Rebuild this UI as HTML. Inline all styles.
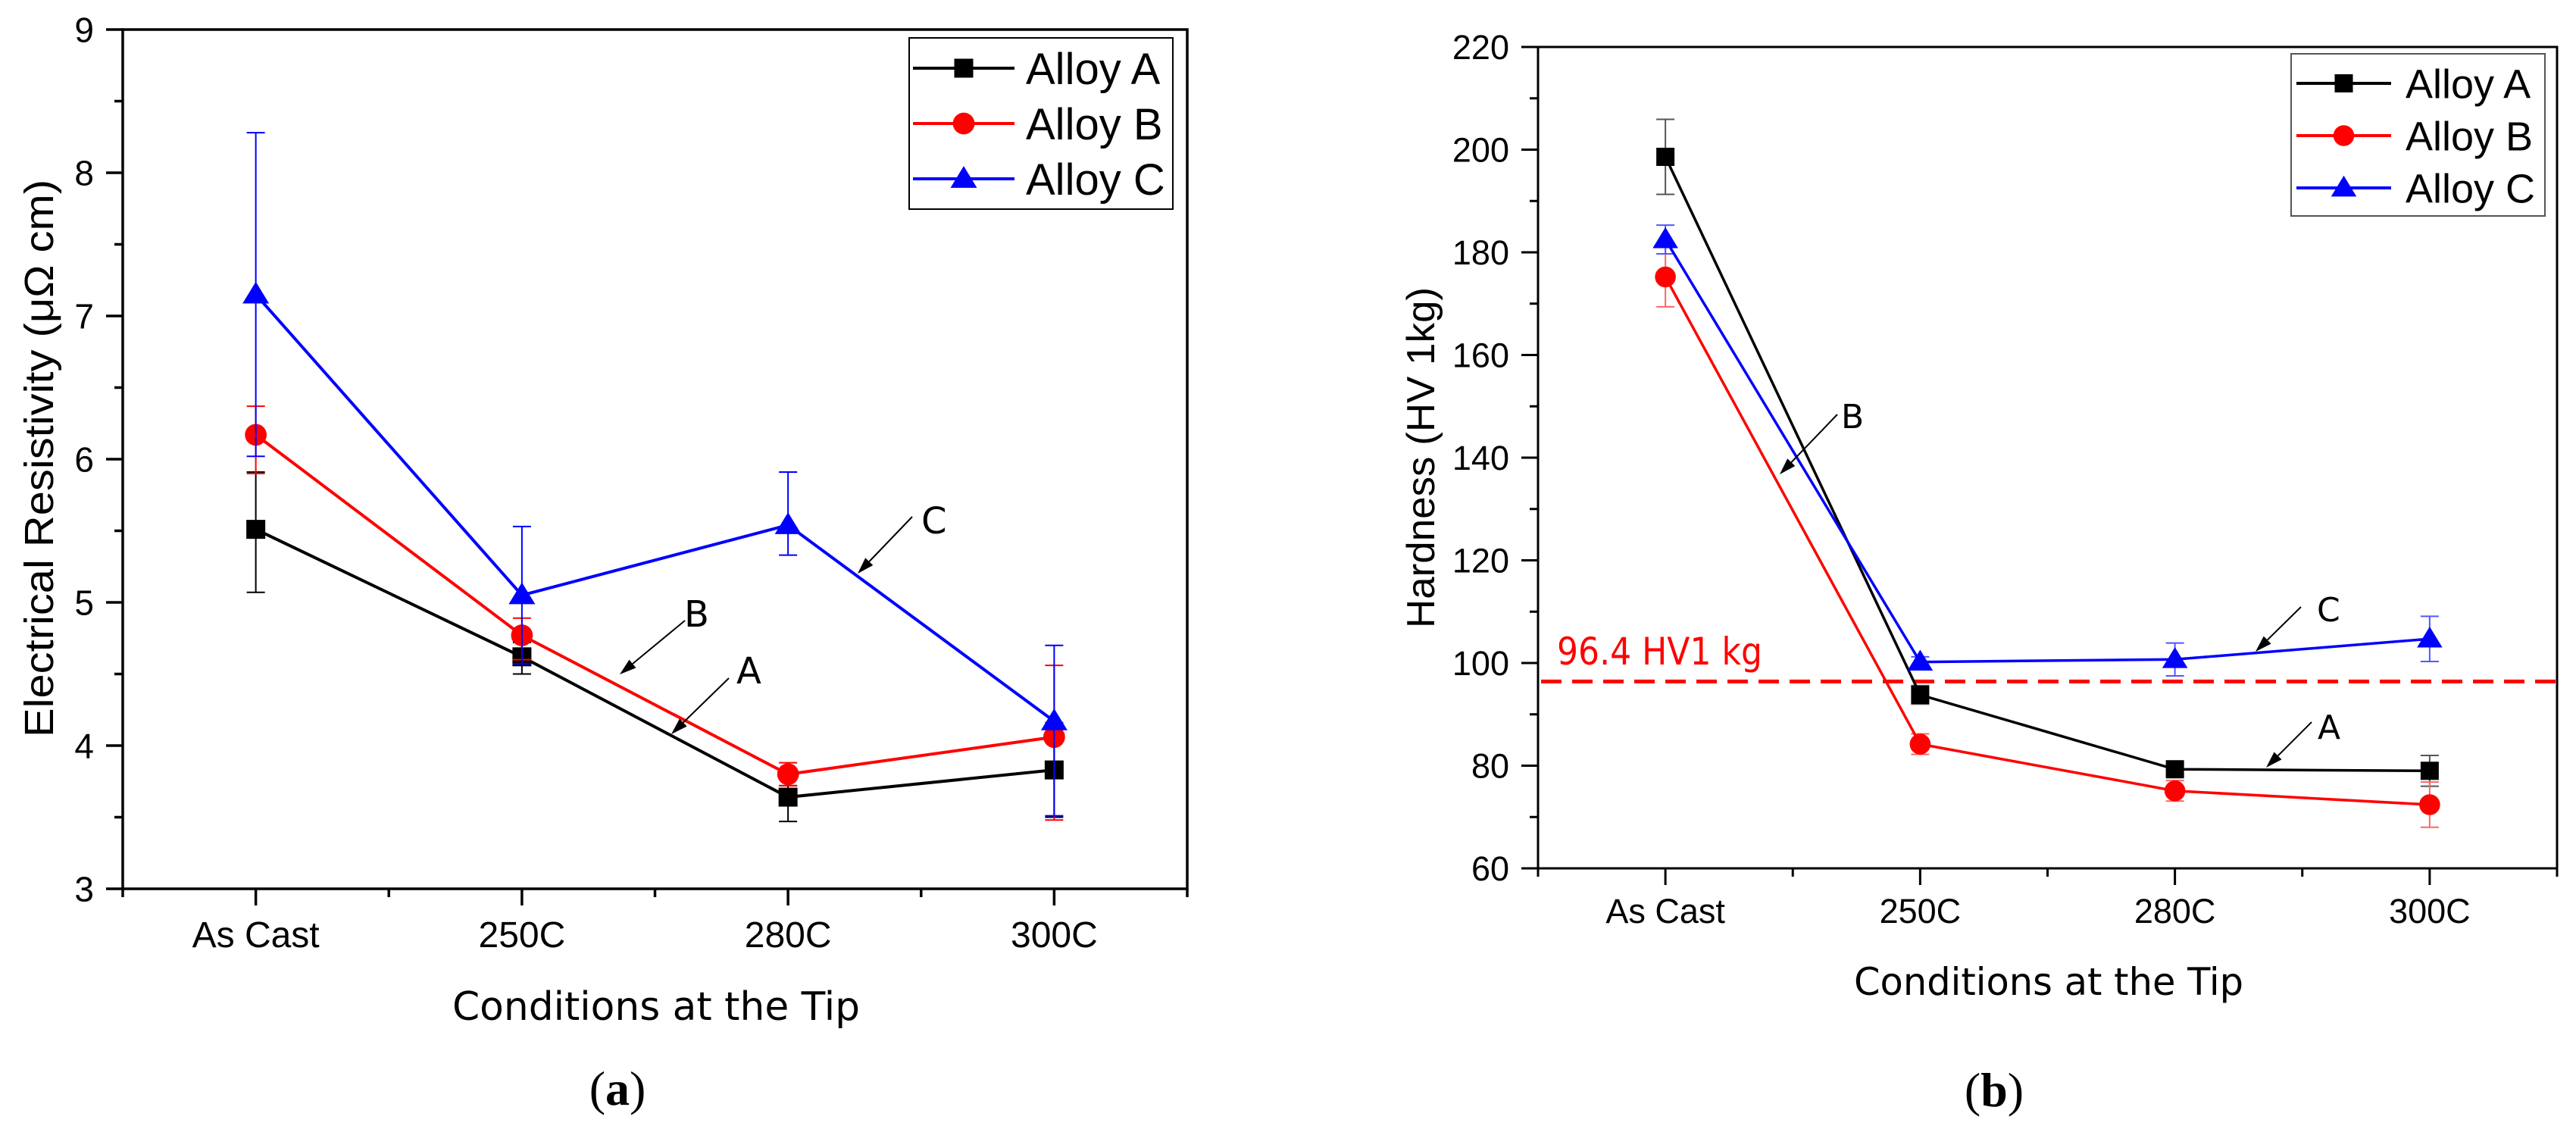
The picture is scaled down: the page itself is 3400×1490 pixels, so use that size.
<!DOCTYPE html>
<html><head><meta charset="utf-8"><style>
html,body{margin:0;padding:0;background:#fff;}
svg{display:block;font-family:"Liberation Sans",Arial,sans-serif;}
</style></head><body>
<svg id="fig" width="3400" height="1490" viewBox="0 0 3400 1490" xmlns="http://www.w3.org/2000/svg"></svg>
<script>
const categories = ["As Cast","250C","280C","300C"];
// Chart (a) electrical resistivity
const resA = [5.51, 4.62, 3.64, 3.83];
const resB = [6.17, 4.77, 3.80, 4.06];
const resC = [7.15, 5.05, 5.54, 4.17];
const resAUp = [0.40, 0.10, 0.08, 0.33];
const resALo = [0.44, 0.12, 0.17, 0.33];
const resBUp = [0.20, 0.12, 0.08, 0.50];
const resBLo = [0.27, 0.17, 0.08, 0.58];
const resCUp = [1.13, 0.48, 0.37, 0.53];
const resCLo = [1.13, 0.48, 0.21, 0.66];
const resTicks = [3,4,5,6,7,8,9];
// Chart (b) hardness
const hvA = [198.6, 93.8, 79.3, 79.0];
const hvB = [175.2, 84.2, 75.1, 72.4];
const hvC = [182.5, 100.2, 100.7, 104.7];
const hvAErr = [7.3, 1.8, 1.0, 3.0];
const hvBErr = [5.8, 2.0, 2.0, 4.4];
const hvCErr = [2.8, 1.0, 3.2, 4.4];
const hvTicks = [60,80,100,120,140,160,180,200,220];
const hvLimit = [96.4];

const NS = "http://www.w3.org/2000/svg";
const svg = document.getElementById('fig');
function mk(tag, attrs, parent, text){
  const e = document.createElementNS(NS, tag);
  for (const k in attrs) e.setAttribute(k, attrs[k]);
  if (text !== undefined) e.textContent = text;
  (parent||svg).appendChild(e);
  return e;
}
function marker(g, shape, x, y, color, s){
  let m;
  if (shape==='square') m = mk('rect',{x:x-s,y:y-s,width:2*s,height:2*s,fill:color},g);
  else if (shape==='circle') m = mk('circle',{cx:x,cy:y,r:s*1.15,fill:color},g);
  else m = mk('polygon',{points:`${x},${y-s*1.35} ${x-s*1.4},${y+s*0.95} ${x+s*1.4},${y+s*0.95}`,fill:color},g);
  return m;
}

function drawChart(c){
  const g = mk('g',{});
  
  
  const L=c.L,R=c.R,T=c.T,B=c.B;
  const sx = i => L + (i+0.5)*(R-L)/categories.length;
  const sy = v => B - (v-c.ymin)/(c.ymax-c.ymin)*(B-T);
  const ax = mk('path',{d:`M${L},${T} H${R} V${B} H${L} Z`,fill:'none',stroke:'#000','stroke-width':c.aw},g);
  
  
  const yt = c.ticks;
  for (let k=0;k<yt.length;k++){
    const y = sy(yt[k]);
    mk('line',{x1:L-22,x2:L,y1:y,y2:y,stroke:'#000','stroke-width':c.aw},g);
    const t = mk('text',{x:L-38,y:y+c.tfs*0.36,'text-anchor':'end','font-size':c.tfs,fill:'#000'},g,String(yt[k]));
    
    
    if (k<yt.length-1){
      const ym = sy((yt[k]+yt[k+1])/2);
      mk('line',{x1:L-11,x2:L,y1:ym,y2:ym,stroke:'#000','stroke-width':c.aw},g);
    }
  }
  for (let i=0;i<categories.length;i++){
    const x = sx(i);
    mk('line',{x1:x,x2:x,y1:B,y2:B+22,stroke:'#000','stroke-width':c.aw},g);
    const t = mk('text',{x:x,y:c.xlabY,'text-anchor':'middle','font-size':c.xfs,fill:'#000'},g,categories[i]);
    
    
  }
  for (let i=0;i<=categories.length;i++){
    const x = L + i*(R-L)/categories.length;
    mk('line',{x1:x,x2:x,y1:B,y2:B+11,stroke:'#000','stroke-width':c.aw},g);
  }
  const yl = mk('text',{x:0,y:0,transform:`translate(${c.ytX},${c.ytY}) rotate(-90)`,'text-anchor':'middle','font-size':c.ytfs,textLength:c.ytLen,lengthAdjust:'spacingAndGlyphs',fill:'#000'},g,c.ytitle);
  
  
  const xl = mk('text',{x:c.xtX,y:c.xtY,'text-anchor':'middle','font-size':c.xtfs,textLength:c.xtLen,lengthAdjust:'spacingAndGlyphs',fill:'#000','font-family':'"DejaVu Sans","Liberation Sans",sans-serif'},g,'Conditions at the Tip');
  
  
  const pl = mk('text',{x:c.capX,y:c.capY,'text-anchor':'middle','font-size':64,fill:'#000','font-family':'"Liberation Serif",serif'},g);
  
  
  mk('tspan',{},pl,'(');
  mk('tspan',{'font-weight':'bold'},pl,c.cap);
  mk('tspan',{},pl,')');
  if (c.extra) c.extra(g, sx, sy);
  c.series.forEach(s=>{
    const sg = mk('g',{},g);
    
    
    for (let i=0;i<s.vals.length;i++){
      const x=sx(i), y1=sy(s.vals[i]+s.up[i]), y2=sy(s.vals[i]-s.lo[i]);
      const eb = mk('path',{d:`M${x},${y1} V${y2} M${x-12},${y1} H${x+12} M${x-12},${y2} H${x+12}`,stroke:s.ecolor,'stroke-width':2,fill:'none'},sg);
      
      
    }
    const pts = s.vals.map((v,i)=>sx(i)+','+sy(v)).join(' ');
    const ln = mk('polyline',{points:pts,fill:'none',stroke:s.color,'stroke-width':c.lw},sg);
    
    
    for (let i=0;i<s.vals.length;i++){
      const m = marker(sg, s.shape, sx(i), sy(s.vals[i]), s.color, c.ms);
      
      
    }
  });
  c.ann.forEach(a=>{
    const ag = mk('g',{},g);
    
    
    const dx=a.x2-a.x1, dy=a.y2-a.y1, len=Math.hypot(dx,dy), ux=dx/len, uy=dy/len;
    const hx=a.x2-ux*22, hy=a.y2-uy*22;
    mk('line',{x1:a.x1,y1:a.y1,x2:hx,y2:hy,stroke:'#000','stroke-width':2},ag);
    mk('polygon',{points:`${a.x2},${a.y2} ${hx-uy*7},${hy+ux*7} ${hx+uy*7},${hy-ux*7}`,fill:'#000'},ag);
    mk('text',{x:a.tx,y:a.ty,'font-size':c.afs,fill:'#000','font-family':'"DejaVu Sans","Liberation Sans",sans-serif'},ag,a.t);
  });
  const lg = mk('g',{},g);
  
  
  mk('rect',{x:c.lg.x,y:c.lg.y,width:c.lg.w,height:c.lg.h,fill:'#fff',stroke:c.lg.stroke,'stroke-width':2},lg);
  c.series.forEach((s,k)=>{
    const ey = c.lg.row0 + k*c.lg.dy;
    const le = mk('g',{},lg);
    
    
    mk('line',{x1:c.lg.l1,x2:c.lg.l2,y1:ey,y2:ey,stroke:s.color,'stroke-width':4},le);
    marker(le, s.shape, (c.lg.l1+c.lg.l2)/2, ey, s.color, c.ms);
    mk('text',{x:c.lg.tx,y:ey+c.lg.fs*0.36,'font-size':c.lg.fs,fill:'#000'},le,s.label);
  });
}

drawChart({name:'chart-a-resistivity',L:162,R:1567,T:39,B:1173,ymin:3,ymax:9,ticks:resTicks,aw:3.5,lw:4,ms:12.5,
  tfs:46,xfs:48,xlabY:1250,ytitle:'Electrical Resistivity (μΩ cm)',ytX:70,ytY:605,ytfs:54,ytLen:736,
  xtX:866,xtY:1346,xtfs:52,xtLen:538,cap:'a',capX:815,capY:1458,afs:48,
  series:[
    {key:'alloy-a',label:'Alloy A',vals:resA,up:resAUp,lo:resALo,color:'#000',ecolor:'#000',shape:'square'},
    {key:'alloy-b',label:'Alloy B',vals:resB,up:resBUp,lo:resBLo,color:'#f00',ecolor:'#f00',shape:'circle'},
    {key:'alloy-c',label:'Alloy C',vals:resC,up:resCUp,lo:resCLo,color:'#00f',ecolor:'#00f',shape:'triangle'}],
  ann:[{t:'C',x1:1204,y1:682,x2:1132,y2:757,tx:1216,ty:704},
       {t:'B',x1:904,y1:819,x2:818,y2:890,tx:903,ty:827},
       {t:'A',x1:962,y1:895,x2:886,y2:969,tx:972,ty:902}],
  lg:{x:1200,y:50,w:348,h:226,stroke:'#000',row0:90,dy:73,l1:1205,l2:1339,tx:1354,fs:58}
});

drawChart({name:'chart-b-hardness',L:2030,R:3375,T:62,B:1146,ymin:60,ymax:220,ticks:hvTicks,aw:3,lw:3.5,ms:12,
  tfs:45,xfs:45,xlabY:1218,ytitle:'Hardness (HV 1kg)',ytX:1893,ytY:604,ytfs:52,ytLen:450,
  xtX:2704,xtY:1313,xtfs:50,xtLen:514,cap:'b',capX:2632,capY:1460,afs:44,
  extra:(g,sx,sy)=>{
    const y = sy(hvLimit[0]);
    const d = mk('line',{x1:2034,x2:3375,y1:y,y2:y,stroke:'#f00','stroke-width':5,'stroke-dasharray':'27 14'},g);
    
    
    const t = mk('text',{x:2055,y:877,'font-size':50,fill:'#f00',textLength:271,lengthAdjust:'spacingAndGlyphs','font-family':'"DejaVu Sans","Liberation Sans",sans-serif'},g,hvLimit[0]+' HV1 kg');
    
    
  },
  series:[
    {key:'alloy-a',label:'Alloy A',vals:hvA,up:hvAErr,lo:hvAErr,color:'#000',ecolor:'#555',shape:'square'},
    {key:'alloy-b',label:'Alloy B',vals:hvB,up:hvBErr,lo:hvBErr,color:'#f00',ecolor:'#f66',shape:'circle'},
    {key:'alloy-c',label:'Alloy C',vals:hvC,up:hvCErr,lo:hvCErr,color:'#00f',ecolor:'#55f',shape:'triangle'}],
  ann:[{t:'B',x1:2425,y1:547,x2:2349,y2:626,tx:2430,ty:565},
       {t:'C',x1:3037,y1:801,x2:2977,y2:860,tx:3058,ty:820},
       {t:'A',x1:3051,y1:953,x2:2991,y2:1013,tx:3059,ty:975}],
  lg:{x:3024,y:71,w:335,h:214,stroke:'#555',row0:110,dy:69,l1:3031,l2:3156,tx:3175,fs:54}
});
</script>
</body></html>
